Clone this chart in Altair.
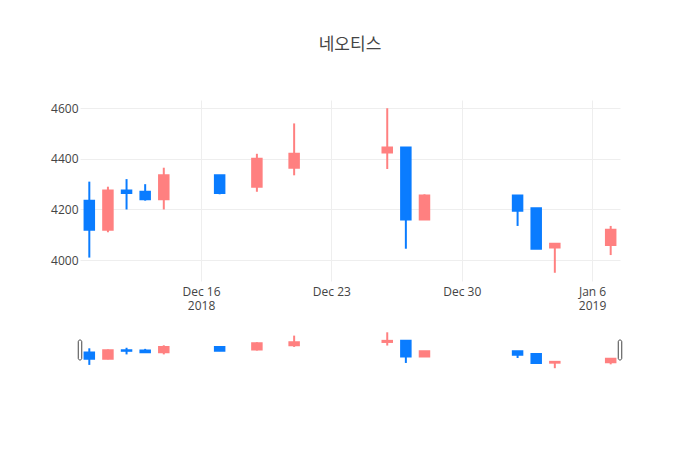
import altair as alt
import pandas as pd

# ---- data ----
dates = ["2018-12-10", "2018-12-11", "2018-12-12", "2018-12-13", "2018-12-14",
         "2018-12-17", "2018-12-19", "2018-12-21", "2018-12-26", "2018-12-27",
         "2018-12-28", "2019-01-02", "2019-01-03", "2019-01-04", "2019-01-07"]
opens = [4235, 4120, 4275, 4270, 4240, 4335, 4290, 4365, 4425, 4445, 4160, 4255, 4205, 4050, 4060]
highs = [4310, 4290, 4320, 4300, 4365, 4335, 4420, 4540, 4600, 4445, 4260, 4255, 4205, 4065, 4135]
lows = [4010, 4110, 4200, 4235, 4200, 4260, 4270, 4335, 4360, 4045, 4160, 4135, 4045, 3950, 4020]
closes = [4120, 4275, 4265, 4240, 4335, 4265, 4400, 4420, 4445, 4160, 4255, 4195, 4045, 4065, 4120]

tick_dates = ["2018-12-16", "2018-12-23", "2018-12-30", "2019-01-06"]
y_ticks = [4000, 4200, 4400, 4600]
title_text = "네오티스"

UP, DOWN = "#ff8080", "#0a7cff"

df = pd.DataFrame({"date": dates, "open": opens, "high": highs, "low": lows, "close": closes})
df["dir"] = ["up" if c >= o else "down" for o, c in zip(opens, closes)]

handles = pd.DataFrame({"date": ["2018-12-09T12:00:00Z", "2019-01-07T12:00:00Z"]})

x_domain = [alt.DateTime(year=2018, month=12, date=9, hours=12, utc=True),
            alt.DateTime(year=2019, month=1, date=7, hours=12, utc=True)]
y_domain = [3917.5, 4632.5]

FONT = "Open Sans"
label_expr = ("datum.index == 0 || (utcmonth(datum.value) == 0 && utcdate(datum.value) <= 7) ? "
              "[utcFormat(datum.value, '%b %-d'), utcFormat(datum.value, '%Y')] : "
              "utcFormat(datum.value, '%b %-d')")

xenc = alt.X("date:T",
             scale=alt.Scale(type="utc", domain=x_domain, nice=False, padding=0),
             axis=alt.Axis(values=tick_dates, labelExpr=label_expr, title=None,
                           grid=True, gridColor="#eeeeee", gridWidth=1,
                           domain=False, ticks=False, labelPadding=5,
                           labelLineHeight=14, labelBaseline="top",
                           labelColor="#444444", labelFont=FONT, labelFontSize=12,
                           labelAngle=0, labelFlush=False, labelOverlap=False))

cscale = alt.Scale(domain=["up", "down"], range=[UP, DOWN])
color = alt.Color("dir:N", scale=cscale, legend=None)
stroke = alt.Stroke("dir:N", scale=cscale, legend=None)

main_y = alt.Scale(domain=y_domain, nice=False, zero=False, padding=0)
main_axis = alt.Axis(values=y_ticks, format="d", title=None, grid=True, gridColor="#eeeeee",
                     domain=False, ticks=False, labelPadding=2, labelColor="#444444",
                     labelFont=FONT, labelFontSize=12)

base = alt.Chart(df)

wick = base.mark_rule(strokeWidth=2).encode(
    x=xenc, y=alt.Y("low:Q", scale=main_y, axis=main_axis), y2="high:Q", color=color)
body = base.mark_bar(size=9.5, strokeWidth=2).encode(
    x=xenc, y=alt.Y("open:Q", scale=main_y, axis=main_axis), y2="close:Q",
    color=color, stroke=stroke)
main = alt.layer(wick, body)

slider_y = alt.Scale(domain=y_domain, range=[270, 230.5], nice=False, zero=False, padding=0)
swick = base.mark_rule(strokeWidth=2).encode(
    x=xenc, y=alt.Y("low:Q", scale=slider_y, axis=None), y2="high:Q", color=color)
sbody = base.mark_bar(size=9.5, strokeWidth=2).encode(
    x=xenc, y=alt.Y("open:Q", scale=slider_y, axis=None), y2="close:Q",
    color=color, stroke=stroke)
slider = alt.layer(swick, sbody)

handle = alt.Chart(handles).mark_bar(size=3.5, cornerRadius=2, fill="white",
                                     stroke="#444444", strokeWidth=1).encode(
    x=xenc, y=alt.value(240), y2=alt.value(260))

chart = alt.layer(main, slider, handle).resolve_scale(y="independent").properties(
    width=540, height=181,
    title=alt.TitleParams(title_text, anchor="middle", frame="group", fontSize=17,
                          color="#444444", font="Noto Sans CJK KR", fontWeight="normal",
                          baseline="bottom", offset=29),
    autosize=alt.AutoSizeParams(type="none"),
    padding={"left": 80, "top": 100, "right": 80, "bottom": 169},
    background="white",
).configure_view(stroke=None)

chart.save("out.html", embed_options={"renderer": "svg", "actions": False})
